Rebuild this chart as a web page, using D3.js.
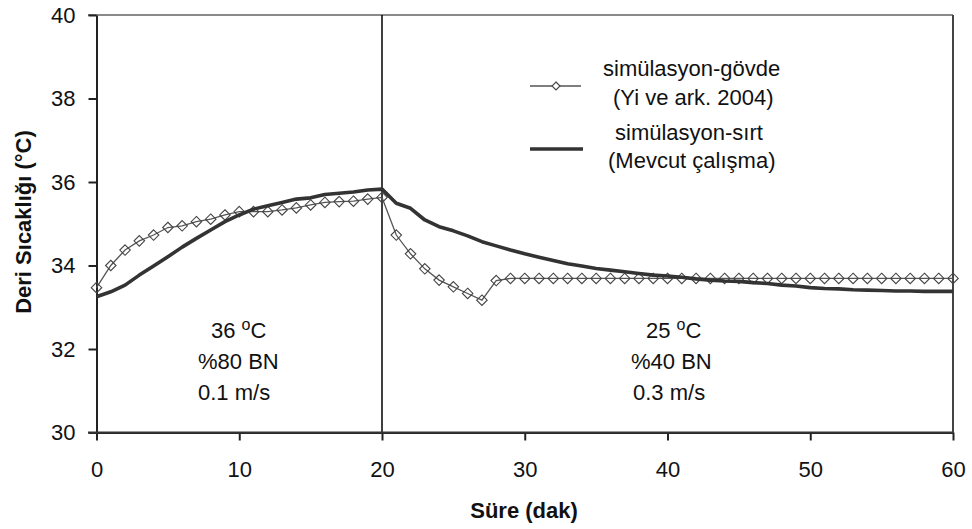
<!DOCTYPE html>
<html>
<head>
<meta charset="utf-8">
<script src="https://cdn.jsdelivr.net/npm/d3@7"></script>
<style>
  html, body { margin: 0; padding: 0; background: #fff; }
  svg { display: block; }
  text { font-family: "Liberation Sans", Arial, sans-serif; fill: #111; }
</style>
</head>
<body>
<svg id="chart" width="972" height="529"></svg>
<script>
// ---- data ----
const minutes = [0,1,2,3,4,5,6,7,8,9,10,11,12,13,14,15,16,17,18,19,20,
  21,22,23,24,25,26,27,28,29,30,31,32,33,34,35,36,37,38,39,40,
  41,42,43,44,45,46,47,48,49,50,51,52,53,54,55,56,57,58,59,60];

const govde = [33.47,34.00,34.37,34.59,34.73,34.91,34.95,35.05,35.11,35.21,35.29,
  35.29,35.29,35.33,35.38,35.45,35.51,35.53,35.54,35.59,35.63,
  34.73,34.28,33.92,33.65,33.49,33.33,33.17,33.64,33.69,33.69,
  33.69,33.69,33.69,33.69,33.69,33.69,33.69,33.69,33.69,33.69,
  33.69,33.69,33.69,33.69,33.69,33.69,33.69,33.69,33.69,33.69,
  33.69,33.69,33.69,33.69,33.69,33.69,33.69,33.69,33.69,33.69];

const sirt = [33.25,33.37,33.53,33.77,33.99,34.21,34.44,34.65,34.85,35.05,35.21,
  35.35,35.43,35.51,35.59,35.62,35.70,35.73,35.76,35.81,35.83,
  35.49,35.37,35.09,34.93,34.83,34.71,34.57,34.47,34.37,34.28,
  34.20,34.12,34.04,33.99,33.93,33.89,33.85,33.81,33.77,33.75,
  33.72,33.68,33.65,33.63,33.62,33.59,33.57,33.53,33.51,33.47,
  33.45,33.44,33.42,33.41,33.40,33.39,33.39,33.38,33.38,33.38];

const xTicks = [0,10,20,30,40,50,60];
const yTicks = [30,32,34,36,38,40];
const xTitle = "Süre (dak)";
const yTitle = "Deri Sıcaklığı (°C)";
const legendLines = [["simülasyon-gövde", "(Yi ve ark. 2004)"], ["simülasyon-sırt", "(Mevcut çalışma)"]];
const phaseSplit = 20;
const leftNote = ["36 ", "o", "C", "%80 BN", "0.1 m/s"];
const rightNote = ["25 ", "o", "C", "%40 BN", "0.3 m/s"];

// ---- drawing ----
const svg = d3.select("#chart");
const x = d3.scaleLinear().domain([0, 60]).range([96.5, 953]);
const y = d3.scaleLinear().domain([30, 40]).range([432.5, 15]);
const FS = 22;

// square diamond symbol (rotated square)
const squareDiamond = {
  draw(ctx, size) {
    const r = Math.sqrt(size) / 2;
    ctx.moveTo(0, -r); ctx.lineTo(r, 0); ctx.lineTo(0, r); ctx.lineTo(-r, 0); ctx.closePath();
  }
};

// frame top / right
svg.append("line").attr("x1", 88).attr("x2", 953).attr("y1", y(40)).attr("y2", y(40))
  .attr("stroke", "#8a8a8a").attr("stroke-width", 2);
svg.append("line").attr("x1", 953).attr("x2", 953).attr("y1", y(40)).attr("y2", y(30))
  .attr("stroke", "#444").attr("stroke-width", 2);

// phase divider
svg.append("line").attr("x1", x(phaseSplit)).attr("x2", x(phaseSplit))
  .attr("y1", y(40)).attr("y2", y(30)).attr("stroke", "#000").attr("stroke-width", 1.5);

// axes
const yAxis = svg.append("g").attr("transform", `translate(${x(0)},0)`)
  .call(d3.axisLeft(y).tickValues(yTicks).tickSize(8).tickSizeOuter(0).tickPadding(13));
const xAxis = svg.append("g").attr("transform", `translate(0,${y(30)})`)
  .call(d3.axisBottom(x).tickValues(xTicks).tickSize(8).tickSizeOuter(0));
[yAxis, xAxis].forEach(g => {
  g.select(".domain").attr("stroke", "#222").attr("stroke-width", 2);
  g.selectAll(".tick line").attr("stroke", "#222").attr("stroke-width", 2);
  g.selectAll(".tick text").attr("font-size", FS).attr("fill", "#111")
    .attr("font-family", "Liberation Sans, Arial, sans-serif");
});
xAxis.selectAll(".tick text").attr("y", 44).attr("dy", null);
svg.append("line").attr("x1", 88).attr("x2", 953).attr("y1", y(30)).attr("y2", y(30))
  .attr("stroke", "#333").attr("stroke-width", 2);

// series: govde (thin line + open diamonds)
const govdeData = minutes.map((m, i) => [m, govde[i]]);
const sirtData = minutes.map((m, i) => [m, sirt[i]]);
const line = d3.line().x(d => x(d[0])).y(d => y(d[1]));

svg.append("path").datum(govdeData).attr("d", line)
  .attr("fill", "none").attr("stroke", "#555").attr("stroke-width", 1.3);
const diamond = d3.symbol().type(squareDiamond).size(110);
svg.append("g").selectAll("path").data(govdeData).join("path")
  .attr("transform", d => `translate(${x(d[0])},${y(d[1])})`)
  .attr("d", diamond).attr("fill", "none").attr("stroke", "#444").attr("stroke-width", 1.1);

// series: sirt (thick line)
svg.append("path").datum(sirtData).attr("d", line)
  .attr("fill", "none").attr("stroke", "#333").attr("stroke-width", 3.6)
  .attr("stroke-linejoin", "round");

// annotations
function note(parts, x0, x1, x2) {
  const t = svg.append("text").attr("x", x0).attr("y", 338).attr("font-size", FS);
  t.append("tspan").text(parts[0]);
  t.append("tspan").text(parts[1]).attr("font-size", 16).attr("dy", -8);
  t.append("tspan").text(parts[2]).attr("dy", 8);
  svg.append("text").attr("x", x1).attr("y", 369).attr("font-size", FS).text(parts[3]);
  svg.append("text").attr("x", x2).attr("y", 400).attr("font-size", FS).text(parts[4]);
}
note(leftNote, 211, 198, 198);
note(rightNote, 646, 631, 633);

// legend
svg.append("line").attr("x1", 530).attr("x2", 581).attr("y1", 86).attr("y2", 86)
  .attr("stroke", "#555").attr("stroke-width", 1.3);
svg.append("path").attr("transform", "translate(556,86)")
  .attr("d", d3.symbol().type(squareDiamond).size(64)).attr("fill", "#fff")
  .attr("stroke", "#444").attr("stroke-width", 1.1);
svg.append("line").attr("x1", 530).attr("x2", 583).attr("y1", 149).attr("y2", 149)
  .attr("stroke", "#333").attr("stroke-width", 3.6);
svg.append("text").attr("x", 603).attr("y", 76).attr("font-size", FS).text(legendLines[0][0]);
svg.append("text").attr("x", 613).attr("y", 105).attr("font-size", FS).text(legendLines[0][1]);
svg.append("text").attr("x", 615).attr("y", 140).attr("font-size", FS).text(legendLines[1][0]);
svg.append("text").attr("x", 608).attr("y", 168).attr("font-size", FS).text(legendLines[1][1]);

// axis titles
svg.append("text").attr("x", 524).attr("y", 518).attr("text-anchor", "middle")
  .attr("font-size", 22).attr("font-weight", "bold").text(xTitle);
svg.append("text").attr("transform", "translate(31,222) rotate(-90)")
  .attr("text-anchor", "middle").attr("font-size", 22).attr("font-weight", "bold").text(yTitle);
</script>
</body>
</html>
